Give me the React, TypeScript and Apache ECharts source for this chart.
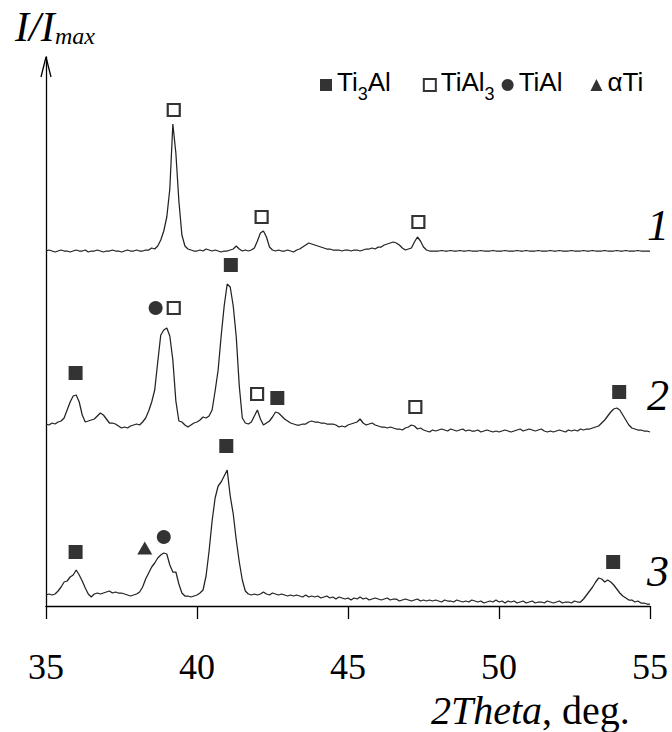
import React, { useEffect, useRef } from "react";
import * as echarts from "echarts";

// 2θ sampling grid of the digitised patterns
const START = 35;
const STEP = 0.1;

// Intensity of each pattern above its own baseline (arbitrary units), read every 0.1° from 35° to 55°
const curve1 = [
  0, 1, 0, -1, 0, 1, 0, 0, -1, 0,
  1, 0, 0, 1, -1, 0, 0, 1, 0, -1,
  0, 0, 1, 0, 0, -1, 0, 1, 0, 0,
  1, 0, 0, 1, 1, 3, 2, 5, 11, 20,
  34, 62, 127, 98, 50, 16, 5, 2, 1, 0,
  0, 1, 0, 2, 1, 0, 1, 0, -1, 0,
  0, 1, 2, 5, 2, 0, 1, 0, 1, 3,
  10, 18, 20, 14, 4, 1, 0, 1, 0, 0,
  1, 0, -1, 1, 2, 4, 6, 8, 7, 6,
  5, 4, 3, 2, 2, 1, 1, 1, 0, 1,
  1, 0, 1, 1, 0, 1, 2, 2, 3, 2,
  4, 4, 6, 7, 8, 9, 8, 6, 3, 1,
  2, 3, 9, 14, 10, 4, 1, 0, 0, 0,
  0, 0.5, 0, 0, 0.5, 0, 0, 0.5, 0, 0,
  0.5, 0, 0, 0, 0.5, 0, 0, 0, 0.5, 0,
  0, 0, 0.5, 0, 0, 0, 0.5, 0, 0, 0.5,
  0, 0, 0, 0.5, 0, 0, 0, 0.5, 0, 0,
  0.5, 0, 0, 0, 0.5, 0, 0, 0, 0.5, 0,
  0, 0.5, 0, 0, 0, 0.5, 0, 0, 0, 0.5,
  0, 0, 0.5, 0, 0, 0, 0.5, 0, 0, 0,
  0,
];

const curve2 = [
  2, 1, 3, 2, 4, 5, 8, 16, 24, 30,
  31, 24, 11, 4, 5, 6, 7, 10, 13, 11,
  7, 3, 3, 2, 0, -2, -1, -2, 0, 1,
  2, 1, 4, 8, 15, 24, 36, 64, 91, 96,
  98, 90, 66, 25, 5, 4, 1, -1, 1, 3,
  4, 6, 9, 8, 10, 16, 35, 56, 90, 120,
  142, 139, 120, 89, 40, 8, 3, 2, 4, 10,
  16, 7, 1, 3, 5, 9, 14, 13, 10, 7,
  5, 3, 2, 1, 1, 2, 2, 4, 5, 4,
  4, 3, 3, 2, 2, 2, 1, -1, 0, -1,
  1, 2, 3, 4, 7, 3, 1, 2, 3, 1,
  0, -1, -1, -2, -1, -2, -3, -3, -4, -2,
  -1, 1, 0, -3, -2, -4, -5, -6, -4, -5,
  -4, -3, -4, -5, -3, -4, -5, -4, -3, -5,
  -4, -5, -5, -4, -6, -5, -4, -5, -6, -5,
  -6, -5, -4, -5, -6, -5, -4, -3, -5, -4,
  -3, -4, -5, -4, -3, -5, -6, -5, -6, -5,
  -4, -5, -6, -4, -5, -4, -5, -3, -4, -3,
  -3, -2, -1, 0, 3, 6, 10, 14, 17, 18,
  16, 11, 6, 1, -2, -3, -4, -4, -5, -5,
  -6,
];

const curve3 = [
  11, 12, 11, 12, 15, 19, 24, 25, 29, 31,
  36, 31, 25, 18, 12, 9, 12, 13, 12, 13,
  14, 15, 13, 14, 13, 13, 12, 11, 10, 11,
  12, 14, 19, 27, 33, 39, 43, 48, 51, 53,
  52, 41, 34, 34, 22, 13, 10, 10, 9, 10,
  11, 13, 16, 30, 55, 85, 108, 120, 124, 130,
  136, 110, 92, 66, 44, 26, 15, 12, 11, 12,
  11, 12, 14, 12, 11, 13, 12, 11, 12, 11,
  10, 11, 10, 11, 10, 9, 11, 9, 10, 9,
  10, 8, 9, 10, 8, 9, 7, 9, 8, 7,
  8, 6, 8, 7, 9, 7, 8, 6, 7, 8,
  7, 6, 7, 8, 6, 7, 7, 5, 6, 7,
  6, 5, 6, 7, 5, 6, 5, 6, 5, 6,
  5, 4, 6, 5, 5, 4, 6, 5, 4, 5,
  4, 6, 5, 4, 5, 3, 4, 5, 4, 6,
  4, 5, 3, 5, 4, 5, 3, 4, 5, 3,
  4, 5, 3, 4, 4, 3, 5, 4, 3, 4,
  5, 3, 4, 4, 3, 5, 4, 4, 7, 11,
  15, 19, 24, 28, 27, 24, 26, 24, 21, 17,
  13, 10, 8, 6, 6, 4, 5, 3, 3, 2,
  2,
];

// vertical offsets of the stacked patterns 1, 2, 3
const offsets = [355, 180, 0];
const curveLabels = ["1", "2", "3"];

const X_MIN = 35;
const X_MAX = 55;
const X_INTERVAL = 5;
const Y_MAX = 549;

// phase markers: [2θ, level]
const ti3alMarks = [
  [35.98, 233], [41.12, 341], [42.66, 208], [53.98, 214],
  [35.98, 54], [40.97, 160], [53.78, 44],
];
const tial3Marks = [
  [39.23, 496], [42.14, 389], [47.33, 384],
  [39.23, 298], [41.99, 212], [47.23, 199],
];
const tialMarks = [[38.63, 298], [38.9, 69]];
const alphaTiMarks = [[38.27, 58]];

const phaseNames = ["Ti3Al", "TiAl3", "TiAl", "αTi"];
const phaseLegendText: Record<string, string> = {
  Ti3Al: "{n|Ti}{s|3}{n|Al}{g1| }",
  TiAl3: "{n|TiAl}{s|3}",
  TiAl: "{n|TiAl}{g2| }",
  "αTi": "{n|αTi}",
};

const yTitleMain = "I/I";
const yTitleSub = "max";
const xTitleItalic = "2Theta";
const xTitleNormal = ", deg.";

const SERIF = "'Liberation Serif', 'Times New Roman', serif";
const SANS = "'Liberation Sans', Arial, sans-serif";

export default function App() {
  const ref = useRef<HTMLDivElement>(null);

  useEffect(() => {
    if (!ref.current) return;
    const chart = echarts.init(ref.current, null, { renderer: "svg" });

    const curves = [curve1, curve2, curve3];
    const lineSeries = curves.map((arr, k) => ({
      type: "line",
      name: "pattern " + curveLabels[k],
      showSymbol: false,
      symbol: "none",
      silent: true,
      z: 2,
      lineStyle: { color: "#222", width: 1.25 },
      data: arr.map((v, i) => [Math.round((START + i * STEP) * 100) / 100, v + offsets[k]]),
    }));

    const markerSeries = [
      {
        type: "scatter",
        name: "Ti3Al",
        symbol: "rect",
        symbolSize: 14,
        itemStyle: { color: "#000" },
        data: ti3alMarks,
        z: 3,
      },
      {
        type: "scatter",
        name: "TiAl3",
        symbol: "rect",
        symbolSize: 12,
        itemStyle: { color: "#fff", borderColor: "#000", borderWidth: 2.2 },
        data: tial3Marks,
        z: 3,
      },
      {
        type: "scatter",
        name: "TiAl",
        symbol: "circle",
        symbolSize: 14,
        itemStyle: { color: "#000" },
        data: tialMarks,
        z: 3,
      },
      {
        type: "scatter",
        name: "αTi",
        symbol: "triangle",
        symbolSize: [15, 13],
        itemStyle: { color: "#000" },
        data: alphaTiMarks,
        z: 3,
      },
    ];

    const labelY = [225, 395, 571];

    chart.setOption({
      animation: false,
      backgroundColor: "#fff",
      grid: { left: 46, right: 22, top: 57, bottom: 126, containLabel: false },
      xAxis: {
        type: "value",
        min: X_MIN,
        max: X_MAX,
        interval: X_INTERVAL,
        splitLine: { show: false },
        axisLine: { show: true, onZero: false, lineStyle: { color: "#000", width: 1.3 } },
        axisTick: { show: true, inside: false, length: 13, lineStyle: { color: "#000", width: 1.3 } },
        axisLabel: { fontFamily: SERIF, fontSize: 36, color: "#000", margin: 43 },
      },
      yAxis: {
        type: "value",
        min: 0,
        max: Y_MAX,
        splitLine: { show: false },
        axisLine: { show: true, lineStyle: { color: "#000", width: 1.3 } },
        axisTick: { show: false },
        axisLabel: { show: false },
      },
      legend: {
        data: phaseNames,
        left: 320,
        top: 69,
        padding: 0,
        itemWidth: 12,
        itemHeight: 12,
        itemGap: 7,
        selectedMode: false,
        formatter: (name: string) => phaseLegendText[name] ?? name,
        textStyle: {
          fontFamily: SANS,
          fontSize: 26,
          color: "#000",
          lineHeight: 26,
          padding: [0, 0, 6, 0],
          rich: {
            n: { fontFamily: SANS, fontSize: 26, lineHeight: 26, color: "#000" },
            s: {
              fontFamily: SANS,
              fontSize: 18,
              height: 2,
              lineHeight: 2,
              verticalAlign: "bottom",
              color: "#000",
            },
            g1: { width: 25, fontSize: 26, lineHeight: 26 },
            g2: { width: 21, fontSize: 26, lineHeight: 26 },
          },
        },
      },
      graphic: [
        {
          type: "polyline",
          shape: { points: [[41, 77], [46, 57], [51, 77]] },
          style: { stroke: "#000", lineWidth: 1.3, fill: null },
          silent: true,
        },
        {
          type: "text",
          x: 15,
          y: 27,
          style: {
            text: yTitleMain,
            fontFamily: SERIF,
            fontStyle: "italic",
            fontSize: 42,
            fill: "#000",
            align: "left",
            verticalAlign: "middle",
          },
        },
        {
          type: "text",
          x: 55,
          y: 36,
          style: {
            text: yTitleSub,
            fontFamily: SERIF,
            fontStyle: "italic",
            fontSize: 24,
            fill: "#000",
            align: "left",
            verticalAlign: "middle",
          },
        },
        {
          type: "text",
          x: 431,
          y: 710,
          style: {
            text: "{i|" + xTitleItalic + "}{n|" + xTitleNormal + "}",
            rich: {
              i: { fontFamily: SERIF, fontStyle: "italic", fontSize: 40, lineHeight: 40, fill: "#000" },
              n: { fontFamily: SERIF, fontSize: 40, lineHeight: 40, fill: "#000" },
            },
            fontFamily: SERIF,
            fontSize: 40,
            fill: "#000",
            align: "left",
            verticalAlign: "middle",
          },
        },
        ...curveLabels.map((t, k) => ({
          type: "text",
          x: 658,
          y: labelY[k],
          style: {
            text: t,
            fontFamily: SERIF,
            fontStyle: "italic",
            fontSize: 44,
            fill: "#000",
            align: "center",
            verticalAlign: "middle",
          },
        })),
      ],
      series: [...lineSeries, ...markerSeries],
    });

    return () => chart.dispose();
  }, []);

  return (
    <div
      ref={ref}
      style={{ position: "absolute", left: 0, top: 0, width: 672, height: 732, overflow: "hidden" }}
    />
  );
}
